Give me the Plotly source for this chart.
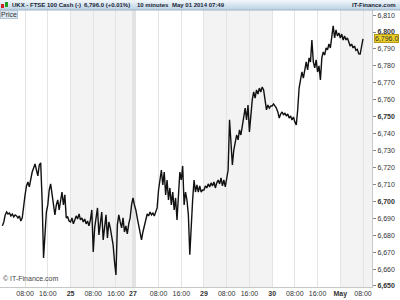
import plotly.graph_objects as go
import pandas as pd

# ---- data (30-minute samples) ----
apr24 = [6685.5, 6687.8, 6692.0, 6693.7, 6692.5, 6693.1, 6691.4, 6692.5, 6690.8, 6692.0,
         6691.4, 6690.2, 6691.4, 6688.4, 6690.2, 6699.0, 6703.8, 6709.1, 6711.4, 6708.5,
         6713.8, 6717.3, 6719.7, 6722.1, 6718.5, 6715.0, 6721.5, 6722.7, 6700.8, 6666.6,
         6680.2, 6693.7, 6697.9, 6706.7, 6710.3, 6703.8, 6697.9, 6692.0, 6697.9, 6700.8,
         6694.9, 6700.8, 6705.5, 6697.9, 6703.8, 6690.2, 6690.8, 6688.4]
apr25 = [6687.8, 6690.2, 6686.7, 6689.0, 6691.4, 6689.6, 6692.5, 6689.0, 6690.2, 6687.8,
         6689.6, 6686.7, 6688.4, 6685.5, 6689.0, 6694.9, 6670.1, 6684.3, 6690.2, 6696.1,
         6680.2, 6687.8, 6693.7, 6677.2, 6686.1, 6692.0, 6678.4, 6687.8, 6684.3, 6680.2,
         6674.3, 6664.2, 6656.5, 6686.1, 6692.0, 6687.8, 6684.3, 6690.2, 6681.9, 6685.5,
         6680.8, 6686.7, 6690.2, 6697.9]
apr27 = [6702.0, 6697.9]
apr28 = [6694.9, 6690.2, 6686.1, 6681.9, 6677.2, 6681.9, 6686.1, 6690.2, 6692.5, 6691.4,
         6693.7, 6692.0, 6693.1, 6691.4, 6693.7, 6696.1, 6706.7, 6713.8, 6718.5, 6709.7,
         6717.3, 6703.8, 6712.6, 6700.8, 6707.9, 6697.9, 6705.5, 6694.9, 6702.0, 6689.0,
         6706.7, 6717.3, 6712.6, 6720.9, 6697.9, 6705.5, 6700.8, 6692.0, 6668.4, 6687.8,
         6700.8, 6712.6, 6705.5, 6709.7, 6705.5, 6709.1, 6705.5, 6706.7]
apr29 = [6706.7, 6709.1, 6707.9, 6710.3, 6708.5, 6710.9, 6709.1, 6711.4, 6707.9, 6710.9,
         6712.6, 6710.3, 6713.8, 6709.1, 6712.6, 6708.5, 6715.0, 6718.5, 6748.1, 6730.3,
         6721.5, 6730.3, 6735.1, 6739.2, 6736.3, 6742.2, 6739.2, 6745.1, 6751.0, 6755.1,
         6748.1, 6756.9, 6741.0, 6752.8, 6759.9, 6764.6, 6761.0, 6765.8, 6763.4, 6766.9,
         6764.6, 6767.5, 6765.8, 6759.9, 6754.0, 6756.9, 6755.1, 6756.3]
apr30 = [6756.3, 6757.5, 6756.3, 6755.1, 6752.8, 6749.2, 6751.6, 6752.8, 6751.0, 6752.2,
         6750.4, 6751.6, 6749.2, 6750.4, 6748.1, 6749.8, 6746.9, 6745.1, 6754.0, 6766.9,
         6771.7, 6776.4, 6772.8, 6778.8, 6782.3, 6777.6, 6784.7, 6782.3, 6795.3, 6782.3,
         6778.8, 6783.5, 6776.4, 6780.0, 6771.7, 6784.7, 6788.2, 6786.4, 6790.6, 6789.4,
         6792.9, 6790.6, 6797.6, 6803.6, 6796.5, 6801.2, 6797.6, 6799.4]
may01 = [6796.5, 6798.8, 6795.3, 6797.6, 6795.3, 6796.5, 6794.1, 6791.6, 6792.9, 6790.6,
         6791.7, 6789.2, 6789.8, 6787.1, 6787.0, 6790.6, 6796.0]

y_ticks = list(range(6650, 6811, 10))
x_tick_vals = ["2014-04-24 08:00", "2014-04-24 16:00", "2014-04-25 00:00", "2014-04-25 08:00",
               "2014-04-25 16:00", "2014-04-27 23:00", "2014-04-28 00:00", "2014-04-28 08:00",
               "2014-04-28 16:00", "2014-04-29 00:00", "2014-04-29 08:00", "2014-04-29 16:00",
               "2014-04-30 00:00", "2014-04-30 08:00", "2014-04-30 16:00", "2014-05-01 00:00",
               "2014-05-01 08:00"]
x_tick_text = ["08:00", "16:00", "<b>25</b>", "08:00", "16:00", "<b>27</b>", "", "08:00",
               "16:00", "<b>29</b>", "08:00", "16:00", "<b>30</b>", "08:00", "16:00",
               "<b>May</b>", "08:00"]

# ---- build series ----
blocks = [("2014-04-24 00:00", apr24), ("2014-04-25 00:00", apr25), ("2014-04-27 23:00", apr27),
          ("2014-04-28 00:00", apr28), ("2014-04-29 00:00", apr29), ("2014-04-30 00:00", apr30),
          ("2014-05-01 00:00", may01)]
times, prices = [], []
for start, vals in blocks:
    times += list(pd.date_range(start, periods=len(vals), freq="30min"))
    prices += vals

W, H = 400, 300
ML, MR, MT, MB = 0, 28, 10, 13
PW, PH = W - ML - MR, H - MT - MB

def px(x):
    return x / PW

def py(y):  # y pixel from top of figure -> paper
    return 1 - (y - MT) / PH

fig = go.Figure()
fig.add_trace(go.Scatter(x=times, y=prices, mode="lines",
                         line=dict(color="#111111", width=1.4), hoverinfo="skip",
                         showlegend=False))

shapes = []
# day shading
for x0, x1, col in [("2014-04-25 00:00", "2014-04-25 22:00", "#f3f3f3"),
                    ("2014-04-27 23:00", "2014-04-28 00:00", "#e2e2e2"),
                    ("2014-04-29 00:00", "2014-04-30 00:00", "#f3f3f3"),
                    ("2014-05-01 00:00", "2014-05-01 11:10", "#f3f3f3")]:
    shapes.append(dict(type="rect", xref="x", yref="paper", x0=x0, x1=x1, y0=0, y1=1,
                       fillcolor=col, line=dict(width=0), layer="below"))
# header gradient
hdr_cols = ["#eef4f9", "#e2ecf4", "#d6e4ef", "#cbdcea", "#c2d5e5"]
for i, c in enumerate(hdr_cols):
    shapes.append(dict(type="rect", xref="paper", yref="paper",
                       x0=px(0), x1=px(W), y0=py(2 * (i + 1)), y1=py(2 * i),
                       fillcolor=c, line=dict(width=0), layer="above"))
shapes.append(dict(type="line", xref="paper", yref="paper", x0=px(0), x1=px(W),
                   y0=py(10), y1=py(10), line=dict(color="#9fb3c4", width=1)))
# candle icon
shapes.append(dict(type="rect", xref="paper", yref="paper", x0=px(1), x1=px(4),
                   y0=py(8), y1=py(4), fillcolor="#d42020", line=dict(width=0)))
shapes.append(dict(type="rect", xref="paper", yref="paper", x0=px(5), x1=px(8),
                   y0=py(7), y1=py(2), fillcolor="#20a020", line=dict(width=0)))

hfont = dict(family="Arial, Liberation Sans", size=6, color="#1b2536")
annotations = [
    dict(x=px(10), y=py(5), xref="paper", yref="paper", xanchor="left", yanchor="middle",
         text="<b>UKX - FTSE 100 Cash (-)</b>", showarrow=False, font=hfont),
    dict(x=px(82), y=py(5), xref="paper", yref="paper", xanchor="left", yanchor="middle",
         text="<b>6,796.0 (+0.01%)</b>", showarrow=False, font=hfont),
    dict(x=px(135), y=py(5), xref="paper", yref="paper", xanchor="left", yanchor="middle",
         text="<b>10 minutes</b>", showarrow=False, font=hfont),
    dict(x=px(170), y=py(5), xref="paper", yref="paper", xanchor="left", yanchor="middle",
         text="<b>May 01 2014 07:49</b>", showarrow=False, font=hfont),
    dict(x=px(398), y=py(5), xref="paper", yref="paper", xanchor="right", yanchor="middle",
         text="<b>IT-Finance.com</b>", showarrow=False, font=hfont),
    dict(x=0, y=1, xref="paper", yref="paper", xanchor="left", yanchor="top",
         text="Price", showarrow=False, bgcolor="#dde8f1", bordercolor="#b3c6d6",
         borderwidth=1, borderpad=0,
         font=dict(family="Arial, Liberation Sans", size=7, color="#333333")),
    dict(x=px(1), y=py(278), xref="paper", yref="paper", xanchor="left", yanchor="middle",
         text="© IT-Finance.com", showarrow=False,
         font=dict(family="Arial, Liberation Sans", size=7, color="#444444")),
    dict(x=1, y=prices[-1], xref="paper", yref="y", xanchor="left", yanchor="middle",
         xshift=2, text="6,796.0", showarrow=False, bgcolor="#ecd02a",
         bordercolor="#b89a10", borderwidth=1, borderpad=0,
         font=dict(family="Arial, Liberation Sans", size=7, color="#333333")),
]

y_text = [("<b>%s</b>" % f"{v:,}") if v % 50 == 0 else f"{v:,}" for v in y_ticks]

fig.update_layout(
    width=W, height=H, margin=dict(l=ML, r=MR, t=MT, b=MB),
    paper_bgcolor="white", plot_bgcolor="white",
    shapes=shapes, annotations=annotations, showlegend=False,
    font=dict(family="Arial, Liberation Sans", size=7, color="#333333"),
    xaxis=dict(type="date", range=["2014-04-23 23:10", "2014-05-01 11:10"],
               rangebreaks=[dict(bounds=["2014-04-25 22:00", "2014-04-27 23:00"])],
               tickmode="array", tickvals=x_tick_vals, ticktext=x_tick_text,
               showgrid=True, gridcolor="#e4e4e4", gridwidth=1,
               showline=True, linecolor="#c8c8c8", ticks="", zeroline=False,
               tickfont=dict(size=7, color="#333333"), fixedrange=True),
    yaxis=dict(side="right", range=[6649.4, 6813.0], tickmode="array",
               tickvals=y_ticks, ticktext=y_text, showgrid=False, zeroline=False,
               showline=True, linecolor="#c8c8c8", ticks="outside", ticklen=3,
               tickcolor="#888888", tickfont=dict(size=7, color="#333333"),
               fixedrange=True),
)

fig.write_html("out.html")
